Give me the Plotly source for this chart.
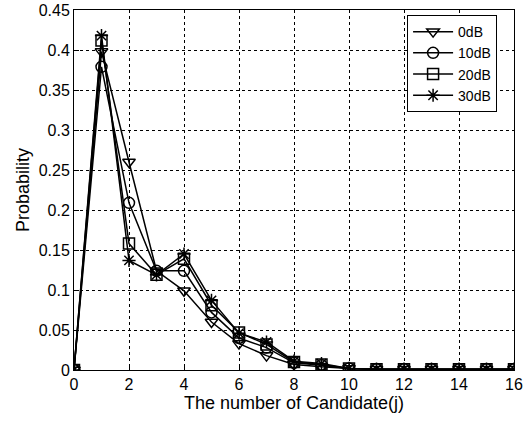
import plotly.graph_objects as go

x = list(range(0, 17))
s0 = [0, 0.398, 0.26, 0.124, 0.099, 0.060, 0.033, 0.018, 0.007, 0.004, 0.002, 0.001, 0.001, 0.001, 0.001, 0.001, 0.001]
s10 = [0, 0.379, 0.209, 0.124, 0.124, 0.072, 0.040, 0.028, 0.009, 0.006, 0.002, 0.001, 0.001, 0.001, 0.001, 0.001, 0.001]
s20 = [0, 0.412, 0.158, 0.119, 0.139, 0.081, 0.047, 0.032, 0.010, 0.007, 0.002, 0.001, 0.001, 0.001, 0.001, 0.001, 0.001]
s30 = [0, 0.418, 0.137, 0.119, 0.145, 0.087, 0.046, 0.035, 0.011, 0.008, 0.002, 0.001, 0.001, 0.001, 0.001, 0.001, 0.001]
names = ["0dB", "10dB", "20dB", "30dB"]
symbols = ["triangle-down-open", "circle-open", "square-open", "asterisk-open"]

fig = go.Figure()
for name, ys, sym in zip(names, [s0, s10, s20, s30], symbols):
    fig.add_trace(go.Scatter(
        x=x, y=ys, name=name, mode="lines+markers",
        line=dict(color="black", width=1.5),
        marker=dict(symbol=sym, size=11, color="black", line=dict(color="black", width=1.5)),
    ))

fig.update_layout(
    width=529, height=421,
    margin=dict(l=74, r=15, t=10, b=51),
    paper_bgcolor="white", plot_bgcolor="white",
    font=dict(family="Liberation Sans, Arial", size=16, color="black"),
    legend=dict(x=0.757, y=0.986, xanchor="left", yanchor="top",
                bordercolor="black", borderwidth=1, bgcolor="white",
                font=dict(size=14), tracegroupgap=0, itemwidth=40),
    showlegend=True,
)
fig.update_xaxes(range=[0, 16], dtick=2, tick0=0, showline=True, linecolor="black", linewidth=1,
                 mirror=True, ticks="inside", ticklen=5, tickcolor="black", automargin=False,
                 showgrid=True, gridcolor="black", griddash="3px,3px", gridwidth=1, zeroline=False,
                 title=dict(text="The number of Candidate(j)", font=dict(size=18), standoff=4))
fig.update_yaxes(range=[0, 0.45], dtick=0.05, tick0=0, showline=True, linecolor="black", linewidth=1,
                 mirror=True, ticks="inside", ticklen=5, tickcolor="black", automargin=False,
                 showgrid=True, gridcolor="black", griddash="3px,3px", gridwidth=1, zeroline=False,
                 tickformat="~g",
                 title=dict(text="Probability", font=dict(size=18), standoff=4))

fig.write_html("out.html", config={"displayModeBar": False},
               post_script="document.body.style.margin='0px';")
